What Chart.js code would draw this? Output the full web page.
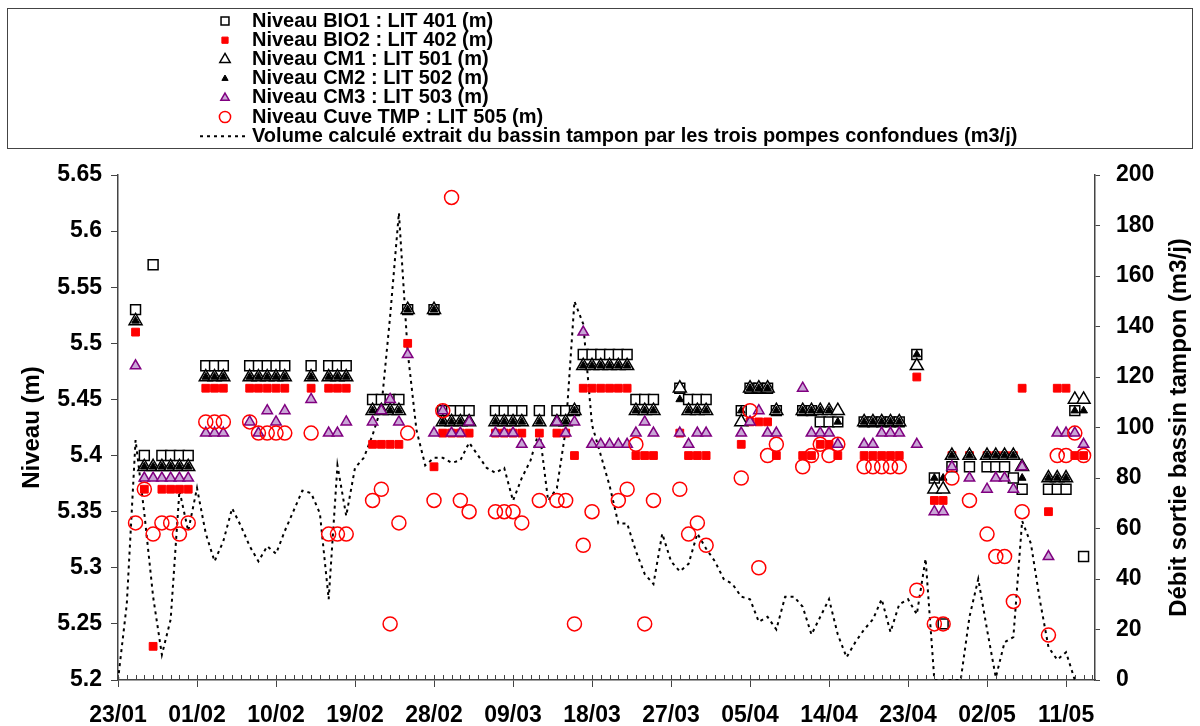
<!DOCTYPE html>
<html>
<head>
<meta charset="utf-8">
<script src="https://cdn.jsdelivr.net/npm/chart.js@4.4.1/dist/chart.umd.min.js"></script>
<style>
  html, body { margin: 0; padding: 0; background: #fff; }
  #wrap { position: relative; width: 1200px; height: 726px; }
</style>
</head>
<body>
<div id="wrap"><canvas id="chart" width="1200" height="726"></canvas></div>
<script>
  // days counted from 23/01
  var days = [
    2, 3, 4, 5, 6, 7, 8, 10, 11, 12,
    15, 16, 17, 18, 19, 22, 24, 25, 26, 29,
    30, 31, 32, 33, 36, 37, 38, 39, 40, 43,
    44, 45, 46, 48, 50, 51, 52, 53, 54, 55,
    56, 57, 58, 59, 60, 61, 64, 65, 66, 67,
    71, 72, 73, 74, 75, 78, 79, 80, 81, 82,
    85, 86, 87, 88, 89, 91, 93, 94, 95, 97,
    99, 100, 101, 102, 103, 106, 107, 108, 109, 110
  ];

  var bio1 = [
    5.53, 5.40, 5.57, 5.40, 5.40, 5.40, 5.40, 5.48, 5.48, 5.48,
    5.48, 5.48, 5.48, 5.48, 5.48, 5.48, 5.48, 5.48, 5.48, 5.45,
    5.45, 5.45, 5.45, 5.53, 5.53, 5.44, 5.44, 5.44, 5.44, 5.44,
    5.44, 5.44, 5.44, 5.44, 5.44, 5.44, 5.44, 5.49, 5.49, 5.49,
    5.49, 5.49, 5.49, 5.45, 5.45, 5.45, 5.46, 5.45, 5.45, 5.45,
    5.44, 5.46, 5.46, 5.46, 5.44, 5.44, 5.44, 5.43, 5.43, 5.43,
    5.43, 5.43, 5.43, 5.43, 5.43, 5.49, 5.38, 5.25, 5.39, 5.39,
    5.39, 5.39, 5.39, 5.38, 5.37, 5.37, 5.37, 5.37, 5.44, 5.31
  ];

  var bio2 = [
    5.51, 5.37, 5.23, 5.37, 5.37, 5.37, 5.37, 5.46, 5.46, 5.46,
    5.46, 5.46, 5.46, 5.46, 5.46, 5.46, 5.46, 5.46, 5.46, 5.41,
    5.41, 5.41, 5.41, 5.50, 5.39, 5.42, 5.42, 5.42, 5.42, 5.42,
    5.42, 5.42, 5.42, 5.42, 5.42, 5.42, 5.40, 5.46, 5.46, 5.46,
    5.46, 5.46, 5.46, 5.40, 5.40, 5.40, 5.42, 5.40, 5.40, 5.40,
    5.41, 5.43, 5.43, 5.43, 5.40, 5.40, 5.40, 5.41, 5.41, 5.40,
    5.40, 5.40, 5.40, 5.40, 5.40, 5.47, 5.36, 5.36, 5.40, 5.40,
    5.40, 5.40, 5.40, 5.40, 5.46, 5.35, 5.46, 5.46, 5.40, 5.40
  ];

  var cm1 = [
    5.52, 5.39, 5.39, 5.39, 5.39, 5.39, 5.39, 5.47, 5.47, 5.47,
    5.47, 5.47, 5.47, 5.47, 5.47, 5.47, 5.47, 5.47, 5.47, 5.44,
    5.44, 5.44, 5.44, 5.53, 5.53, 5.43, 5.43, 5.43, 5.43, 5.43,
    5.43, 5.43, 5.43, 5.43, 5.43, 5.43, 5.44, 5.48, 5.48, 5.48,
    5.48, 5.48, 5.48, 5.44, 5.44, 5.44, 5.46, 5.44, 5.44, 5.44,
    5.43, 5.46, 5.46, 5.46, 5.44, 5.44, 5.44, 5.44, 5.44, 5.44,
    5.43, 5.43, 5.43, 5.43, 5.43, 5.48, 5.37, 5.37, 5.40, 5.40,
    5.40, 5.40, 5.40, 5.40, 5.39, 5.38, 5.38, 5.38, 5.45, 5.45
  ];

  var cm2 = [
    5.52, 5.39, 5.39, 5.39, 5.39, 5.39, 5.39, 5.47, 5.47, 5.47,
    5.47, 5.47, 5.47, 5.47, 5.47, 5.47, 5.47, 5.47, 5.47, 5.44,
    5.44, 5.44, 5.44, 5.53, 5.53, 5.43, 5.43, 5.43, 5.43, 5.43,
    5.43, 5.43, 5.43, 5.43, 5.43, 5.43, 5.44, 5.48, 5.48, 5.48,
    5.48, 5.48, 5.48, 5.44, 5.44, 5.44, 5.45, 5.44, 5.44, 5.44,
    5.44, 5.46, 5.46, 5.46, 5.44, 5.44, 5.44, 5.44, 5.44, 5.43,
    5.43, 5.43, 5.43, 5.43, 5.43, 5.49, 5.38, 5.38, 5.40, 5.40,
    5.40, 5.40, 5.40, 5.40, 5.38, 5.38, 5.38, 5.38, 5.44, 5.44
  ];

  var cm3 = [
    5.48, 5.38, 5.38, 5.38, 5.38, 5.38, 5.38, 5.42, 5.42, 5.42,
    5.43, 5.42, 5.44, 5.43, 5.44, 5.45, 5.42, 5.42, 5.43, 5.43,
    5.44, 5.45, 5.43, 5.49, 5.42, 5.44, 5.42, 5.42, 5.43, 5.42,
    5.42, 5.42, 5.41, 5.41, 5.43, 5.42, 5.43, 5.51, 5.41, 5.41,
    5.41, 5.41, 5.41, 5.42, 5.43, 5.42, 5.42, 5.41, 5.42, 5.42,
    5.42, 5.43, 5.44, 5.42, 5.42, 5.46, 5.42, 5.42, 5.42, 5.41,
    5.41, 5.41, 5.42, 5.42, 5.42, 5.41, 5.35, 5.35, 5.39, 5.38,
    5.37, 5.38, 5.38, 5.37, 5.39, 5.31, 5.42, 5.42, 5.42, 5.41
  ];

  var cuve = [
    5.34, 5.37, 5.33, 5.34, 5.34, 5.33, 5.34, 5.43, 5.43, 5.43,
    5.43, 5.42, 5.42, 5.42, 5.42, 5.42, 5.33, 5.33, 5.33, 5.36,
    5.37, 5.25, 5.34, 5.42, 5.36, 5.44, 5.63, 5.36, 5.35, 5.35,
    5.35, 5.35, 5.34, 5.36, 5.36, 5.36, 5.25, 5.32, 5.35, null,
    null, 5.36, 5.37, 5.41, 5.25, 5.36, 5.37, 5.33, 5.34, 5.32,
    5.38, 5.44, 5.30, 5.40, 5.41, 5.39, 5.40, 5.41, 5.40, 5.41,
    5.39, 5.39, 5.39, 5.39, 5.39, 5.28, 5.25, 5.25, 5.38, 5.36,
    5.33, 5.31, 5.31, 5.27, 5.35, 5.24, 5.40, 5.40, 5.42, 5.40
  ];

  // one value a day, from day 0 (23/01)
  var volume = [
    0, 30, 95, 66, 33, 10, 24, 75, 59, 76,
    58, 47, 55, 68, 61, 53, 47, 53, 50, 59,
    67, 75, 74, 66, 32, 85, 65, 84, 88, 97,
    108, 144, 185, 130, 99, 85, 88, 88, 86, 87,
    94, 89, 84, 82, 84, 71, 80, 87, 99, 71,
    76, 99, 150, 141, 101, 89, 77, 62, 62, 51,
    42, 38, 58, 47, 43, 46, 58, 52, 47, 40,
    38, 33, 32, 23, 25, 20, 33, 33, 29, 18,
    25, 32, 18, 9, 15, 20, 24, 32, 19, 30,
    32, 26, 48, 0, 0, 0, 0, 25, 40, 20,
    1, 15, 17, 63, 54, 32, 13, 8, 11, 0
  ];

  var xTickDays = [0, 9, 18, 27, 36, 45, 54, 63, 72, 81, 90, 99, 108];
  var xTickLabels = ['23/01', '01/02', '10/02', '19/02', '28/02', '09/03', '18/03',
                     '27/03', '05/04', '14/04', '23/04', '02/05', '11/05'];

  var FONT = '"Liberation Sans", Arial, sans-serif';
  var AXIS = '#444';

  function points(vals) {
    var out = [];
    days.forEach(function(d, i) {
      if (vals[i] != null) out.push({x: d, y: vals[i]});
    });
    return out;
  }

  var boxLegend = {
    id: 'boxLegend',
    afterDraw: function(chart) {
      var ctx = chart.ctx;
      ctx.save();
      ctx.strokeStyle = '#444';
      ctx.lineWidth = 1;
      ctx.strokeRect(7.5, 8.5, 1185, 140);
      ctx.font = 'bold 20px ' + FONT;
      ctx.textBaseline = 'middle';
      chart.data.datasets.forEach(function(ds, i) {
        var y = 21 + i * 19.2;
        if (ds.type === 'line') {
          ctx.setLineDash(ds.borderDash);
          ctx.lineWidth = ds.borderWidth;
          ctx.strokeStyle = ds.borderColor;
          ctx.beginPath();
          ctx.moveTo(200, y);
          ctx.lineTo(248, y);
          ctx.stroke();
          ctx.setLineDash([]);
        } else {
          ctx.fillStyle = ds.backgroundColor;
          ctx.strokeStyle = ds.borderColor;
          ctx.lineWidth = ds.borderWidth;
          Chart.helpers.drawPoint(ctx, {
            pointStyle: ds.pointStyle,
            radius: ds.pointRadius * 0.8,
            borderWidth: ds.borderWidth,
            rotation: 0
          }, 225, y);
        }
        ctx.fillStyle = '#000';
        ctx.fillText(ds.label, 252, y);
      });
      ctx.restore();
    }
  };

  // daily minor ticks + right title read bottom to top
  var axisExtras = {
    id: 'axisExtras',
    afterDraw: function(chart) {
      var ctx = chart.ctx, x = chart.scales.x, area = chart.chartArea;
      ctx.save();
      ctx.strokeStyle = AXIS;
      ctx.lineWidth = 1;
      for (var d = Math.ceil(x.min); d <= x.max; d++) {
        var px = Math.round(x.getPixelForValue(d)) + 0.5;
        ctx.beginPath();
        ctx.moveTo(px, area.bottom);
        ctx.lineTo(px, area.bottom - 5);
        ctx.stroke();
      }
      ctx.translate(1179, (area.top + area.bottom) / 2);
      ctx.rotate(-Math.PI / 2);
      ctx.font = 'bold 24px ' + FONT;
      ctx.fillStyle = '#000';
      ctx.textAlign = 'center';
      ctx.textBaseline = 'middle';
      ctx.fillText('Débit sortie bassin tampon (m3/j)', 0, 0);
      ctx.restore();
    }
  };

  var tickFont = { family: FONT, size: 23, weight: 'bold' };

  new Chart(document.getElementById('chart'), {
    type: 'scatter',
    data: {
      datasets: [
        {
          label: 'Niveau BIO1 : LIT 401 (m)', data: points(bio1), order: 6,
          pointStyle: 'rect', pointRadius: 7, backgroundColor: '#fff',
          borderColor: '#000', borderWidth: 1.5
        },
        {
          label: 'Niveau BIO2 : LIT 402 (m)', data: points(bio2), order: 5,
          pointStyle: 'rect', pointRadius: 5.5, backgroundColor: '#ff0000',
          borderColor: '#ff0000', borderWidth: 1
        },
        {
          label: 'Niveau CM1 : LIT 501 (m)', data: points(cm1), order: 4,
          pointStyle: 'triangle', pointRadius: 7.5, backgroundColor: '#fff',
          borderColor: '#000', borderWidth: 1.5
        },
        {
          label: 'Niveau CM2 : LIT 502 (m)', data: points(cm2), order: 3,
          pointStyle: 'triangle', pointRadius: 4.5, backgroundColor: '#000',
          borderColor: '#000', borderWidth: 1
        },
        {
          label: 'Niveau CM3 : LIT 503 (m)', data: points(cm3), order: 2,
          pointStyle: 'triangle', pointRadius: 6, backgroundColor: '#c9a6d6',
          borderColor: '#800080', borderWidth: 1.5
        },
        {
          label: 'Niveau Cuve TMP : LIT 505 (m)', data: points(cuve), order: 1,
          pointStyle: 'circle', pointRadius: 7, backgroundColor: 'rgba(0,0,0,0)',
          borderColor: '#ff0000', borderWidth: 1.5
        },
        {
          type: 'line', yAxisID: 'y2', order: 7,
          label: 'Volume calculé extrait du bassin tampon par les trois pompes confondues (m3/j)',
          data: volume.map(function(v, d) { return {x: d, y: v}; }),
          showLine: true, borderColor: '#000', borderWidth: 2, borderDash: [3, 4],
          pointRadius: 0, tension: 0, fill: false
        }
      ]
    },
    options: {
      responsive: false,
      animation: false,
      layout: { padding: { top: 175, left: 0, right: 0, bottom: 0 } },
      plugins: { legend: { display: false }, tooltip: { enabled: false } },
      scales: {
        x: {
          type: 'linear', min: 0, max: 111.3,
          afterBuildTicks: function(s) { s.ticks = xTickDays.map(function(v) { return {value: v}; }); },
          afterFit: function(s) { s.height = 46; },
          ticks: {
            autoSkip: false, maxRotation: 0, padding: 15, color: '#000', font: tickFont,
            callback: function(v, i) { return xTickLabels[i]; }
          },
          grid: { drawOnChartArea: false, drawTicks: true, tickLength: 7, color: AXIS },
          border: { display: true, color: AXIS, width: 1.5 }
        },
        y: {
          position: 'left', min: 5.2, max: 5.65,
          afterFit: function(s) { s.width = 118; },
          ticks: {
            stepSize: 0.05, padding: 9, color: '#000', font: tickFont,
            callback: function(v) { return String(Math.round(v * 100) / 100); }
          },
          title: {
            display: true, text: 'Niveau (m)', color: '#000', padding: { top: 18, bottom: 0 },
            font: { family: FONT, size: 24, weight: 'bold' }
          },
          grid: { drawOnChartArea: false, drawTicks: true, tickLength: 7, color: AXIS },
          border: { display: true, color: AXIS, width: 1.5 }
        },
        y2: {
          position: 'right', min: 0, max: 200,
          afterFit: function(s) { s.width = 105; },
          ticks: { stepSize: 20, padding: 16, color: '#000', font: tickFont },
          grid: { drawOnChartArea: false, drawTicks: true, tickLength: 5, color: AXIS },
          border: { display: true, color: AXIS, width: 1.5 }
        }
      }
    },
    plugins: [boxLegend, axisExtras]
  });
</script>
</body>
</html>
